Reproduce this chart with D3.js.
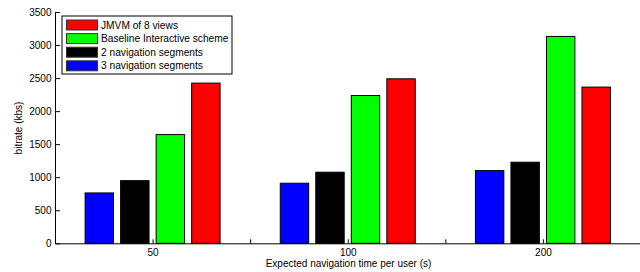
<!DOCTYPE html>
<html>
<head>
<meta charset="utf-8">
<script src="https://cdn.jsdelivr.net/npm/d3@7"></script>
<style>
  body { margin: 0; background: #fff; }
  text { font-family: "Liberation Sans", Arial, Helvetica, sans-serif; }
</style>
</head>
<body>
<svg id="chart"></svg>
<script>
const width = 640, height = 272;
const margin = { top: 12, bottom: 29, left: 55, right: 0 };

// Chart data
const groups = ["50", "100", "200"];
const series = ["3 navigation segments", "2 navigation segments", "Baseline Interactive scheme", "JMVM of 8 views"];
const colors = ["#0000ff", "#000000", "#00ff00", "#ff0000"];
const nav3 = [762, 909, 1100];
const nav2 = [948, 1076, 1227];
const baseline = [1645, 2236, 3130];
const jmvm = [2424, 2489, 2364];
const yTicks = [0, 500, 1000, 1500, 2000, 2500, 3000, 3500];

const values = [nav3, nav2, baseline, jmvm];

const svg = d3.select("#chart")
    .attr("width", width)
    .attr("height", height);

// x positions: group index 1..3 over [0.5, 3.5] like matlab
const xScale = d3.scaleLinear()
    .domain([0.5, 3.5])
    .range([margin.left, width + 0.5]);

const yScale = d3.scaleLinear()
    .domain([0, 3500])
    .range([height - margin.bottom + 0.3, margin.top]);

// series offset inside each group
const step = xScale(1) - xScale(0.5);
const subScale = d3.scaleBand()
    .domain(series)
    .range([-step * 0.728, step * 0.728])
    .paddingInner(0.2)
    .paddingOuter(0.1);

// Bars
const barGroups = svg.selectAll(".series")
    .data(series)
    .enter().append("g")
    .attr("class", "series")
    .attr("fill", (d, i) => colors[i]);

barGroups.selectAll("rect")
    .data((d, i) => values[i].map((v, j) => ({ s: d, v: v, g: j })))
    .enter().append("rect")
    .attr("x", d => xScale(d.g + 1) + subScale(d.s))
    .attr("y", d => yScale(d.v))
    .attr("width", subScale.bandwidth())
    .attr("height", d => yScale(0) - yScale(d.v))
    .attr("stroke", "#000")
    .attr("stroke-width", 1);

// Axes
const yAxis = svg.append("g")
    .attr("transform", `translate(${margin.left}, 0)`)
    .call(d3.axisLeft(yScale)
        .tickValues(yTicks)
        .tickFormat(d3.format("d"))
        .tickSizeInner(-5)
        .tickSizeOuter(0)
        .tickPadding(3.5));

const xAxis = svg.append("g")
    .attr("transform", `translate(0, ${yScale(0)})`)
    .call(d3.axisBottom(xScale)
        .tickValues([1, 1.5, 2, 2.5, 3])
        .tickFormat(d => Number.isInteger(d) ? groups[d - 1] : "")
        .tickSizeInner(-4)
        .tickSizeOuter(0)
        .tickPadding(6));

svg.selectAll(".tick text")
    .style("font-size", "10px")
    .attr("fill", "#000");
svg.selectAll(".domain, .tick line")
    .attr("stroke", "#000");

// Axis labels
svg.append("text")
    .attr("x", 348.5)
    .attr("y", 266.5)
    .attr("text-anchor", "middle")
    .style("font-size", "10px")
    .text("Expected navigation time per user (s)");

svg.append("text")
    .attr("transform", "rotate(-90)")
    .attr("x", -128)
    .attr("y", 22)
    .attr("text-anchor", "middle")
    .style("font-size", "10px")
    .text("bitrate (kbs)");

// Legend, reversed order like the picture
const legendOrder = [3, 2, 1, 0];
const legend = svg.append("g");

legend.append("rect")
    .attr("x", 62)
    .attr("y", 16)
    .attr("width", 170)
    .attr("height", 58)
    .attr("fill", "#fff")
    .attr("stroke", "#000");

const items = legend.selectAll(".item")
    .data(legendOrder)
    .enter().append("g")
    .attr("class", "item")
    .attr("transform", (d, i) => `translate(0, ${25 + i * 13.6})`);

items.append("rect")
    .attr("x", 66.5)
    .attr("y", -5)
    .attr("width", 31)
    .attr("height", 10)
    .attr("fill", d => colors[d])
    .attr("stroke", "#333");

items.append("text")
    .attr("x", 101)
    .attr("dy", "0.36em")
    .style("font-size", "10.2px")
    .text(d => series[d]);
</script>
</body>
</html>
